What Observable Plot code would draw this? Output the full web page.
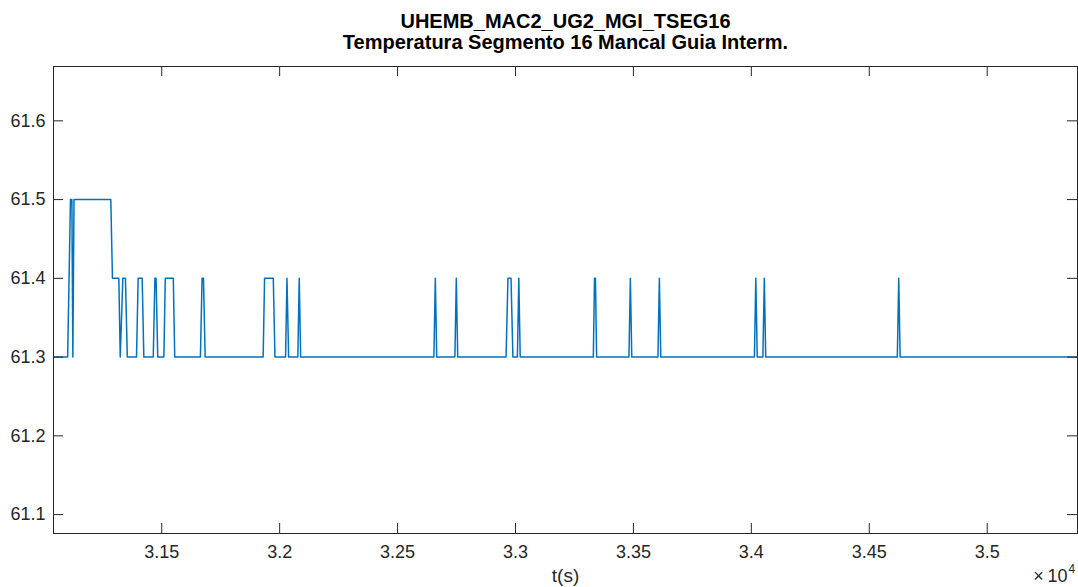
<!DOCTYPE html>
<html>
<head>
<meta charset="utf-8">
<script src="https://cdn.jsdelivr.net/npm/d3@7"></script>
<script src="https://cdn.jsdelivr.net/npm/@observablehq/plot@0.6"></script>
<style>
  html, body { margin: 0; padding: 0; background: #fff; }
  #chart svg { display: block; }
</style>
</head>
<body>
<div id="chart"></div>
<script>
const titleLine1 = "UHEMB_MAC2_UG2_MGI_TSEG16";
const titleLine2 = "Temperatura Segmento 16 Mancal Guia Interm.";
const xLabel = "t(s)";

// time samples (s) and temperature values
const times = [
  31041, 31101, 31113, 31119, 31123, 31128, 31284, 31291, 31318, 31324,
  31335, 31346, 31354, 31393, 31400, 31417, 31424, 31464, 31471, 31476,
  31483, 31509, 31515, 31549, 31555, 31664, 31671, 31677, 31684, 31930,
  31936, 31973, 31980, 32025, 32031, 32038, 32077, 32083, 32089,
  32654, 32660, 32666, 32743, 32749, 32755, 32960, 32968, 32981, 32989,
  33008, 33014, 33020, 33330, 33335, 33339, 33344, 33481, 33487, 33493,
  33604, 33610, 33616, 34013, 34019, 34025, 34049, 34055, 34061,
  34619, 34625, 34631, 35383
];
const temps = [
  61.3, 61.3, 61.5, 61.5, 61.3, 61.5, 61.5, 61.4, 61.4, 61.3,
  61.4, 61.4, 61.3, 61.3, 61.4, 61.4, 61.3, 61.3, 61.4, 61.4,
  61.3, 61.3, 61.4, 61.4, 61.3, 61.3, 61.4, 61.4, 61.3, 61.3,
  61.4, 61.4, 61.3, 61.3, 61.4, 61.3, 61.3, 61.4, 61.3,
  61.3, 61.4, 61.3, 61.3, 61.4, 61.3, 61.3, 61.4, 61.4, 61.3,
  61.3, 61.4, 61.3, 61.3, 61.4, 61.4, 61.3, 61.3, 61.4, 61.3,
  61.3, 61.4, 61.3, 61.3, 61.4, 61.3, 61.3, 61.4, 61.3,
  61.3, 61.4, 61.3, 61.3
];

const xTicks = [31500, 32000, 32500, 33000, 33500, 34000, 34500, 35000];
const yTicks = [61.1, 61.2, 61.3, 61.4, 61.5, 61.6];
const xDomain = [31041, 35383];
const yDomain = [61.076, 61.669];

const data = times.map((t, i) => ({t, v: temps[i]}));

const W = 1078, H = 587;
const mL = 53, mR = 1, mT = 66, mB = 54;
const fw = W - mL - mR, fh = H - mT - mB;
const axisColor = "#262626";
const tickLen = 10;

const chart = Plot.plot({
  width: W,
  height: H,
  marginLeft: mL,
  marginRight: mR,
  marginTop: mT,
  marginBottom: mB,
  style: {fontFamily: "'Liberation Sans', Arial, sans-serif", fontSize: "18px", color: axisColor, background: "#fff"},
  x: {domain: xDomain},
  y: {domain: yDomain},
  marks: [
    Plot.line(data, {x: "t", y: "v", stroke: "#0072BD", strokeWidth: 1.5}),
    Plot.frame({stroke: axisColor, strokeWidth: 1}),
    Plot.tickX(xTicks, {x: d => d, insetTop: fh - tickLen, stroke: axisColor}),
    Plot.tickX(xTicks, {x: d => d, insetBottom: fh - tickLen, stroke: axisColor}),
    Plot.tickY(yTicks, {y: d => d, insetRight: fw - tickLen, stroke: axisColor}),
    Plot.tickY(yTicks, {y: d => d, insetLeft: fw - tickLen, stroke: axisColor}),
    Plot.axisX(xTicks, {tickSize: 0, tickPadding: 12, fontSize: 18, fill: axisColor,
      tickFormat: d => String(+(d / 1e4).toFixed(2)), label: null}),
    Plot.axisY(yTicks, {tickSize: 0, tickPadding: 8, fontSize: 18, fill: axisColor,
      tickFormat: d => d.toFixed(1), label: null}),
    Plot.text([xLabel], {frameAnchor: "bottom", dy: 42, fontSize: 19, fill: axisColor, lineAnchor: "middle"}),
    Plot.text(["×\u200910"], {frameAnchor: "bottom-right", dx: -10, dy: 36, fontSize: 18, fill: axisColor, textAnchor: "end", lineAnchor: "top"}),
    Plot.text(["4"], {frameAnchor: "bottom-right", dx: -9, dy: 31, fontSize: 12, fill: axisColor, textAnchor: "start", lineAnchor: "top"}),
    Plot.text([titleLine1], {frameAnchor: "top", dy: -53, fontSize: 20, fontWeight: "bold", fill: "#000", lineAnchor: "top"}),
    Plot.text([titleLine2], {frameAnchor: "top", dy: -32, fontSize: 20, fontWeight: "bold", fill: "#000", lineAnchor: "top"})
  ]
});
document.getElementById("chart").appendChild(chart);
</script>
</body>
</html>
